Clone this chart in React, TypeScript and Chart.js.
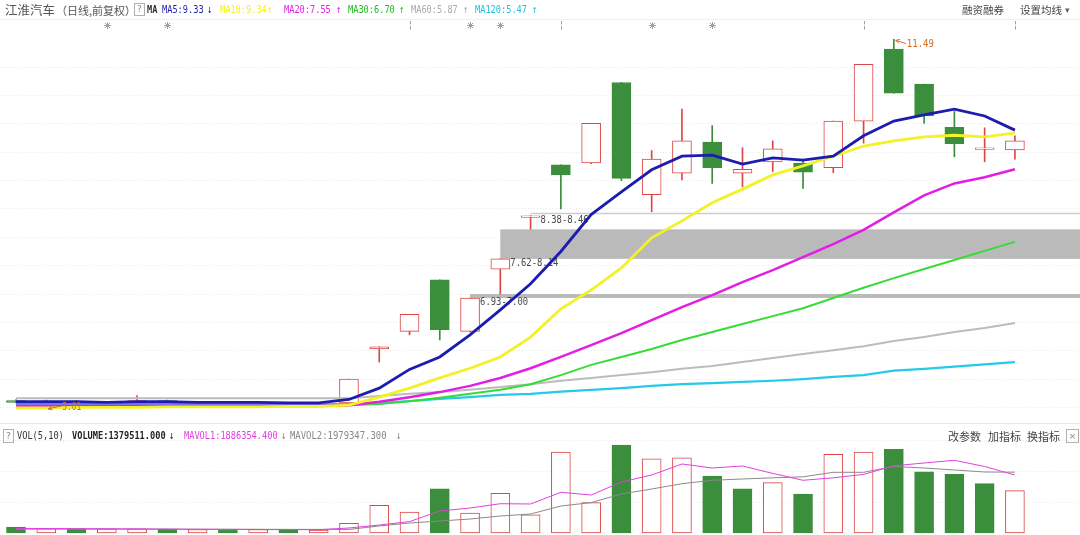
import React, { useEffect, useRef } from 'react';
import { Chart, registerables } from 'chart.js';

Chart.register(...registerables);

// ---------- data ----------
const opens = [5.12, 5.09, 5.11, 5.07, 5.09, 5.12, 5.07, 5.08, 5.05, 5.06, 5.03, 5.08, 6.03, 6.34, 7.25, 6.34, 7.44, 8.35, 9.28, 9.31, 10.73, 8.75, 9.13, 9.68, 9.13, 9.33, 9.31, 9.23, 10.05, 11.32, 10.70, 9.94, 9.55, 9.54];
const highs = [5.14, 5.13, 5.12, 5.10, 5.21, 5.13, 5.10, 5.09, 5.07, 5.07, 5.06, 5.50, 6.07, 6.64, 7.25, 6.93, 7.62, 8.38, 9.28, 10.01, 10.73, 9.53, 10.26, 9.97, 9.58, 9.70, 9.35, 10.05, 11.05, 11.49, 10.70, 10.22, 9.93, 9.79];
const lows = [5.08, 5.01, 5.06, 5.05, 5.04, 5.05, 5.05, 5.03, 5.03, 5.02, 5.02, 5.04, 5.80, 6.28, 6.19, 6.33, 7.00, 8.14, 8.50, 9.30, 9.00, 8.45, 9.01, 8.95, 8.89, 9.16, 8.86, 9.14, 9.66, 10.54, 10.01, 9.42, 9.33, 9.38];
const closes = [5.09, 5.11, 5.07, 5.09, 5.12, 5.07, 5.08, 5.05, 5.06, 5.03, 5.05, 5.50, 6.07, 6.64, 6.37, 6.93, 7.62, 8.38, 9.10, 10.01, 9.04, 9.38, 9.70, 9.23, 9.20, 9.56, 9.15, 10.05, 11.05, 10.54, 10.14, 9.65, 9.58, 9.70];

const ma5 = [5.10, 5.10, 5.10, 5.09, 5.10, 5.10, 5.09, 5.09, 5.09, 5.08, 5.08, 5.14, 5.34, 5.67, 5.89, 6.28, 6.72, 7.18, 7.75, 8.40, 8.80, 9.19, 9.43, 9.45, 9.29, 9.40, 9.36, 9.43, 9.79, 10.05, 10.16, 10.26, 10.14, 9.89];
const ma10 = [4.99, 4.99, 5.00, 5.00, 5.00, 5.01, 5.01, 5.01, 5.01, 5.02, 5.02, 5.04, 5.18, 5.34, 5.52, 5.69, 5.89, 6.24, 6.74, 7.07, 7.46, 7.99, 8.29, 8.61, 8.85, 9.10, 9.26, 9.43, 9.61, 9.70, 9.77, 9.80, 9.77, 9.84];
const ma20 = [5.03, 5.03, 5.03, 5.03, 5.03, 5.03, 5.03, 5.03, 5.03, 5.03, 5.03, 5.04, 5.10, 5.18, 5.27, 5.38, 5.52, 5.69, 5.89, 6.10, 6.31, 6.54, 6.77, 6.98, 7.21, 7.42, 7.65, 7.88, 8.13, 8.44, 8.74, 8.95, 9.06, 9.20];
const ma30 = [5.02, 5.02, 5.02, 5.02, 5.02, 5.02, 5.02, 5.02, 5.02, 5.02, 5.02, 5.04, 5.06, 5.11, 5.17, 5.24, 5.31, 5.41, 5.57, 5.75, 5.89, 6.03, 6.19, 6.33, 6.47, 6.61, 6.75, 6.93, 7.11, 7.28, 7.44, 7.60, 7.76, 7.92];
const ma60 = [5.16, 5.16, 5.16, 5.16, 5.16, 5.16, 5.16, 5.16, 5.16, 5.16, 5.16, 5.16, 5.20, 5.24, 5.27, 5.31, 5.36, 5.41, 5.47, 5.52, 5.57, 5.62, 5.68, 5.73, 5.80, 5.87, 5.94, 6.01, 6.08, 6.17, 6.24, 6.33, 6.40, 6.49];
const ma120 = [5.06, 5.06, 5.06, 5.06, 5.06, 5.06, 5.06, 5.06, 5.06, 5.06, 5.06, 5.06, 5.08, 5.11, 5.15, 5.18, 5.22, 5.24, 5.28, 5.31, 5.34, 5.38, 5.41, 5.43, 5.45, 5.47, 5.50, 5.54, 5.57, 5.65, 5.68, 5.72, 5.76, 5.80];

const volumes = [192000, 146000, 137000, 137000, 137000, 124000, 114000, 114000, 114000, 91000, 91000, 316000, 898000, 683000, 1435000, 651000, 1292000, 595000, 2635000, 989000, 2860000, 2411000, 2443000, 1851000, 1435000, 1637000, 1269000, 2557000, 2635000, 2723000, 1994000, 1907000, 1604000, 1379511];
const mavol1 = [148000, 146000, 142000, 138000, 134000, 128000, 122000, 118000, 114000, 110000, 108000, 163000, 260000, 371000, 716000, 813000, 953000, 944000, 1324000, 1236000, 1659000, 1887000, 2245000, 2115000, 2180000, 1939000, 1715000, 1796000, 1907000, 2186000, 2278000, 2365000, 2164000, 1886354];
const mavol2 = [125000, 125000, 125000, 124000, 124000, 123000, 122000, 121000, 120000, 118000, 117000, 116000, 228000, 325000, 390000, 455000, 553000, 618000, 878000, 989000, 1269000, 1432000, 1604000, 1715000, 1757000, 1796000, 1828000, 1975000, 1975000, 2164000, 2115000, 2050000, 1985000, 1979347];

const gapLow = [6.93, 7.62, 8.38];
const gapHigh = [7.00, 8.14, 8.46];
const gapFrom = [15, 16, 17];
const gapLabels = ['6.93-7.00', '7.62-8.14', '8.38-8.46'];
const gapStyle = ['band', 'band', 'line'];

const starMarks = [3, 5, 15, 16, 21, 23];
const flagMarks = [13, 18, 28, 33];

const gridPrices = [5, 5.5, 6, 6.5, 7, 7.5, 8, 8.5, 9, 9.5, 10, 10.5, 11];
const gridVolumes = [1000000, 2000000, 3000000];

// ---------- styles ----------
const RED = '#dc4646';
const GREEN = '#3a8e3c';
const ORANGE = '#d2691e';
const C_MA5 = '#1c1cb0';
const C_MA10 = '#f2f226';
const C_MA20 = '#e31ee3';
const C_MA30 = '#36dc36';
const C_MA60 = '#bcbcbc';
const C_MA120 = '#25c9ec';
const C_MAVOL1 = '#e040e0';
const C_MAVOL2 = '#8a8a8a';
const GRID = '#e8e8e8';

const X_MIN = -0.5286;
const X_MAX = 35.15;
const P_MIN = 4.778;
const P_MAX = 12.185;
const V_MIN = -65072;
const V_MAX = 3676568;

const idx = opens.map((_, i) => i);
const isUp = (i: number) => closes[i] >= opens[i];
const volUp = (i: number) => (i === 0 ? closes[i] >= opens[i] : closes[i] >= closes[i - 1]);

const gapPlugin = {
  id: 'gaps',
  beforeDatasetsDraw(chart: any) {
    const { ctx, chartArea, scales } = chart;
    const x = scales.x;
    const y = scales.y;
    ctx.save();
    gapLow.forEach((lo, i) => {
      const x0 = x.getPixelForValue(gapFrom[i]);
      const yHi = y.getPixelForValue(gapHigh[i]);
      const yLo = y.getPixelForValue(lo);
      if (gapStyle[i] === 'line') {
        ctx.fillStyle = '#cdcdcd';
        const m = (yHi + yLo) / 2;
        ctx.fillRect(x0, m - 0.75, chartArea.right - x0, 1.5);
      } else {
        ctx.fillStyle = '#bababa';
        ctx.fillRect(x0, yHi, chartArea.right - x0, yLo - yHi);
      }
      ctx.fillStyle = '#4a4a4a';
      ctx.font = '11px "DejaVu Sans Mono"';
      ctx.textBaseline = 'middle';
      ctx.textAlign = 'left';
      ctx.fillText(gapLabels[i], x0 + 10, yLo + 4, 48);
    });
    ctx.restore();
  },
};

const annotPlugin = {
  id: 'annots',
  afterDatasetsDraw(chart: any) {
    const { ctx, scales } = chart;
    const x = scales.x;
    const y = scales.y;
    ctx.save();
    // high label
    const hi = highs.indexOf(Math.max(...highs));
    const xh = x.getPixelForValue(hi);
    const yh = y.getPixelForValue(highs[hi]);
    ctx.strokeStyle = ORANGE;
    ctx.lineWidth = 1;
    ctx.beginPath();
    ctx.moveTo(xh + 2, yh + 1);
    ctx.lineTo(xh + 12, yh + 4);
    ctx.moveTo(xh + 2, yh + 1);
    ctx.lineTo(xh + 6, yh);
    ctx.moveTo(xh + 2, yh + 1);
    ctx.lineTo(xh + 5, yh + 4);
    ctx.stroke();
    ctx.fillStyle = ORANGE;
    ctx.font = '11px "DejaVu Sans Mono"';
    ctx.textBaseline = 'middle';
    ctx.textAlign = 'left';
    ctx.fillText(highs[hi].toFixed(2), xh + 13, yh + 5, 27);
    // low label
    const lo = lows.indexOf(Math.min(...lows));
    const xl = x.getPixelForValue(lo);
    const yl = y.getPixelForValue(lows[lo]);
    ctx.beginPath();
    ctx.moveTo(xl + 2, yl + 2);
    ctx.lineTo(xl + 15, yl - 1);
    ctx.moveTo(xl + 2, yl + 2);
    ctx.lineTo(xl + 6, yl - 1);
    ctx.moveTo(xl + 2, yl + 2);
    ctx.lineTo(xl + 6, yl + 3);
    ctx.stroke();
    ctx.font = '10px "DejaVu Sans Mono"';
    ctx.fillText(lows[lo].toFixed(2), xl + 16, yl + 1, 19);
    // top markers
    ctx.strokeStyle = '#a0a0a0';
    ctx.lineWidth = 1;
    starMarks.forEach((i) => {
      const cx = Math.round(x.getPixelForValue(i)) + 0.5;
      const cy = 25.5;
      const r = 3.5;
      ctx.beginPath();
      ctx.moveTo(cx - r, cy); ctx.lineTo(cx + r, cy);
      ctx.moveTo(cx, cy - r); ctx.lineTo(cx, cy + r);
      ctx.moveTo(cx - 2.5, cy - 2.5); ctx.lineTo(cx + 2.5, cy + 2.5);
      ctx.moveTo(cx - 2.5, cy + 2.5); ctx.lineTo(cx + 2.5, cy - 2.5);
      ctx.stroke();
    });
    flagMarks.forEach((i) => {
      const cx = Math.round(x.getPixelForValue(i)) + 0.5;
      ctx.beginPath();
      ctx.moveTo(cx, 21); ctx.lineTo(cx, 24.5);
      ctx.moveTo(cx, 26); ctx.lineTo(cx, 29.5);
      ctx.stroke();
    });
    ctx.restore();
  },
};

const lineDs = (data: number[], color: string, width: number, order: number) => ({
  type: 'line' as const,
  data: idx.map((i) => ({ x: i, y: data[i] })),
  borderColor: color,
  borderWidth: width,
  pointRadius: 0,
  fill: false,
  tension: 0,
  order,
});

const T = ({ x, y, c = '#333', s = 11, sx = 0.785, mono = true, bold = false, children }: any) => (
  <span
    style={{
      position: 'absolute',
      left: x,
      top: y - 7,
      height: 14,
      lineHeight: '14px',
      fontSize: s,
      fontFamily: mono ? '"DejaVu Sans Mono", monospace' : '"Noto Sans CJK SC", sans-serif',
      color: c,
      fontWeight: bold ? 'bold' : 'normal',
      whiteSpace: 'nowrap',
      transform: `scaleX(${sx})`,
      transformOrigin: '0 50%',
    }}
  >
    {children}
  </span>
);

const Box = ({ x, y, w, h, ch }: any) => (
  <div
    style={{
      position: 'absolute',
      left: x,
      top: y,
      width: w,
      height: h,
      border: '1px solid #b0b0b0',
      boxSizing: 'border-box',
      fontSize: 9,
      lineHeight: `${h - 2}px`,
      textAlign: 'center',
      color: '#888',
      fontFamily: '"DejaVu Sans", sans-serif',
    }}
  >
    {ch}
  </div>
);

export default function App() {
  const priceRef = useRef<HTMLCanvasElement>(null);
  const volRef = useRef<HTMLCanvasElement>(null);

  useEffect(() => {
    const common = {
      responsive: false,
      animation: false as const,
      events: [] as any[],
      layout: { padding: 0 },
      plugins: { legend: { display: false }, tooltip: { enabled: false } },
    };

    const price = new Chart(priceRef.current!, {
      type: 'bar',
      data: {
        datasets: [
          lineDs(ma5, C_MA5, 2.8, 1),
          lineDs(ma10, C_MA10, 2.8, 2),
          lineDs(ma20, C_MA20, 2.5, 3),
          lineDs(ma30, C_MA30, 2, 4),
          lineDs(ma60, C_MA60, 2, 5),
          lineDs(ma120, C_MA120, 2.2, 6),
          {
            type: 'bar',
            data: idx.map((i) => ({ x: i, y: [opens[i], closes[i]] })),
            backgroundColor: idx.map((i) => (isUp(i) ? '#ffffff' : GREEN)),
            borderColor: idx.map((i) => (isUp(i) ? RED : GREEN)),
            borderWidth: 1,
            borderSkipped: false,
            barThickness: 19,
            grouped: false,
            order: 8,
          } as any,
          {
            type: 'bar',
            data: idx.map((i) => ({ x: i, y: [lows[i], highs[i]] })),
            backgroundColor: idx.map((i) => (isUp(i) ? RED : GREEN)),
            borderWidth: 0,
            barThickness: 1,
            grouped: false,
            order: 9,
          } as any,
        ] as any,
      },
      options: {
        ...common,
        scales: {
          x: { type: 'linear', min: X_MIN, max: X_MAX, display: false, offset: false },
          y: {
            type: 'linear',
            min: P_MIN,
            max: P_MAX,
            display: true,
            ticks: { display: false },
            grid: { color: GRID, drawTicks: false, lineWidth: 1 },
            border: { display: false, dash: [1, 2] },
            afterBuildTicks: (s: any) => {
              s.ticks = gridPrices.map((v) => ({ value: v }));
            },
          },
        },
      } as any,
      plugins: [gapPlugin, annotPlugin],
    });

    const vol = new Chart(volRef.current!, {
      type: 'bar',
      data: {
        datasets: [
          lineDs(mavol1, C_MAVOL1, 1, 1),
          lineDs(mavol2, C_MAVOL2, 1, 2),
          {
            type: 'bar',
            data: idx.map((i) => ({ x: i, y: volumes[i] })),
            backgroundColor: idx.map((i) => (volUp(i) ? '#ffffff' : GREEN)),
            borderColor: idx.map((i) => (volUp(i) ? RED : GREEN)),
            borderWidth: 1,
            borderSkipped: false,
            barThickness: 19,
            grouped: false,
            order: 5,
          } as any,
        ] as any,
      },
      options: {
        ...common,
        scales: {
          x: { type: 'linear', min: X_MIN, max: X_MAX, display: false, offset: false },
          y: {
            type: 'linear',
            min: V_MIN,
            max: V_MAX,
            display: true,
            ticks: { display: false },
            grid: { color: GRID, drawTicks: false, lineWidth: 1 },
            border: { display: false, dash: [1, 2] },
            afterBuildTicks: (s: any) => {
              s.ticks = gridVolumes.map((v) => ({ value: v }));
            },
          },
        },
      } as any,
    });

    return () => {
      price.destroy();
      vol.destroy();
    };
  }, []);

  return (
    <div style={{ position: 'fixed', left: 0, top: 0, width: 1080, height: 535, background: '#fff', overflow: 'hidden' }}>
      <canvas ref={priceRef} width={1080} height={420} style={{ position: 'absolute', left: 0, top: 0, width: 1080, height: 420 }} />
      <canvas ref={volRef} width={1080} height={115} style={{ position: 'absolute', left: 0, top: 420, width: 1080, height: 115 }} />
      <div style={{ position: 'absolute', left: 0, top: 19, width: 1080, height: 1, background: '#f0f0f0' }} />
      <div style={{ position: 'absolute', left: 0, top: 423, width: 1080, height: 1, background: '#e6e6e6' }} />

      {/* top header */}
      <T x={5} y={10} mono={false} s={12.5} sx={1} c="#555">江淮汽车</T>
      <T x={56} y={10} mono={false} s={11} sx={1} c="#555">（日线,前复权）</T>
      <Box x={134} y={3} w={11} h={13} ch="?" />
      <T x={147} y={10} c="#333" bold>MA</T>
      <T x={162} y={10} c={C_MA5}>MA5:9.33</T>
      <T x={207} y={10} c={C_MA5}>↓</T>
      <T x={220} y={10} c={C_MA10}>MA10:9.34</T>
      <T x={267} y={10} c={C_MA10}>↑</T>
      <T x={284} y={10} c={C_MA20}>MA20:7.55</T>
      <T x={336} y={10} c={C_MA20}>↑</T>
      <T x={348} y={10} c="#22b822">MA30:6.70</T>
      <T x={399} y={10} c="#22b822">↑</T>
      <T x={411} y={10} c="#aaaaaa">MA60:5.87</T>
      <T x={463} y={10} c="#aaaaaa">↑</T>
      <T x={475} y={10} c="#1fbfe0">MA120:5.47</T>
      <T x={532} y={10} c="#1fbfe0">↑</T>
      <T x={962} y={10} mono={false} s={10.5} sx={1} c="#444">融资融券</T>
      <T x={1020} y={10} mono={false} s={10.5} sx={1} c="#444">设置均线</T>
      <T x={1065} y={10} mono={false} s={9} sx={1} c="#666">▾</T>

      {/* volume header */}
      <Box x={3} y={429} w={11} h={14} ch="?" />
      <T x={17} y={436} c="#333">VOL(5,10)</T>
      <T x={72} y={436} c="#222" bold>VOLUME:1379511.000</T>
      <T x={169} y={436} c="#222">↓</T>
      <T x={184} y={436} c={C_MAVOL1}>MAVOL1:1886354.400</T>
      <T x={281} y={436} c={C_MAVOL1}>↓</T>
      <T x={290} y={436} c="#888" sx={0.81}>MAVOL2:1979347.300</T>
      <T x={396} y={436} c="#888">↓</T>
      <T x={948} y={436} mono={false} s={11} sx={1} c="#444">改参数</T>
      <T x={988} y={436} mono={false} s={11} sx={1} c="#444">加指标</T>
      <T x={1027} y={436} mono={false} s={11} sx={1} c="#444">换指标</T>
      <Box x={1066} y={429} w={13} h={14} ch="×" />
    </div>
  );
}
